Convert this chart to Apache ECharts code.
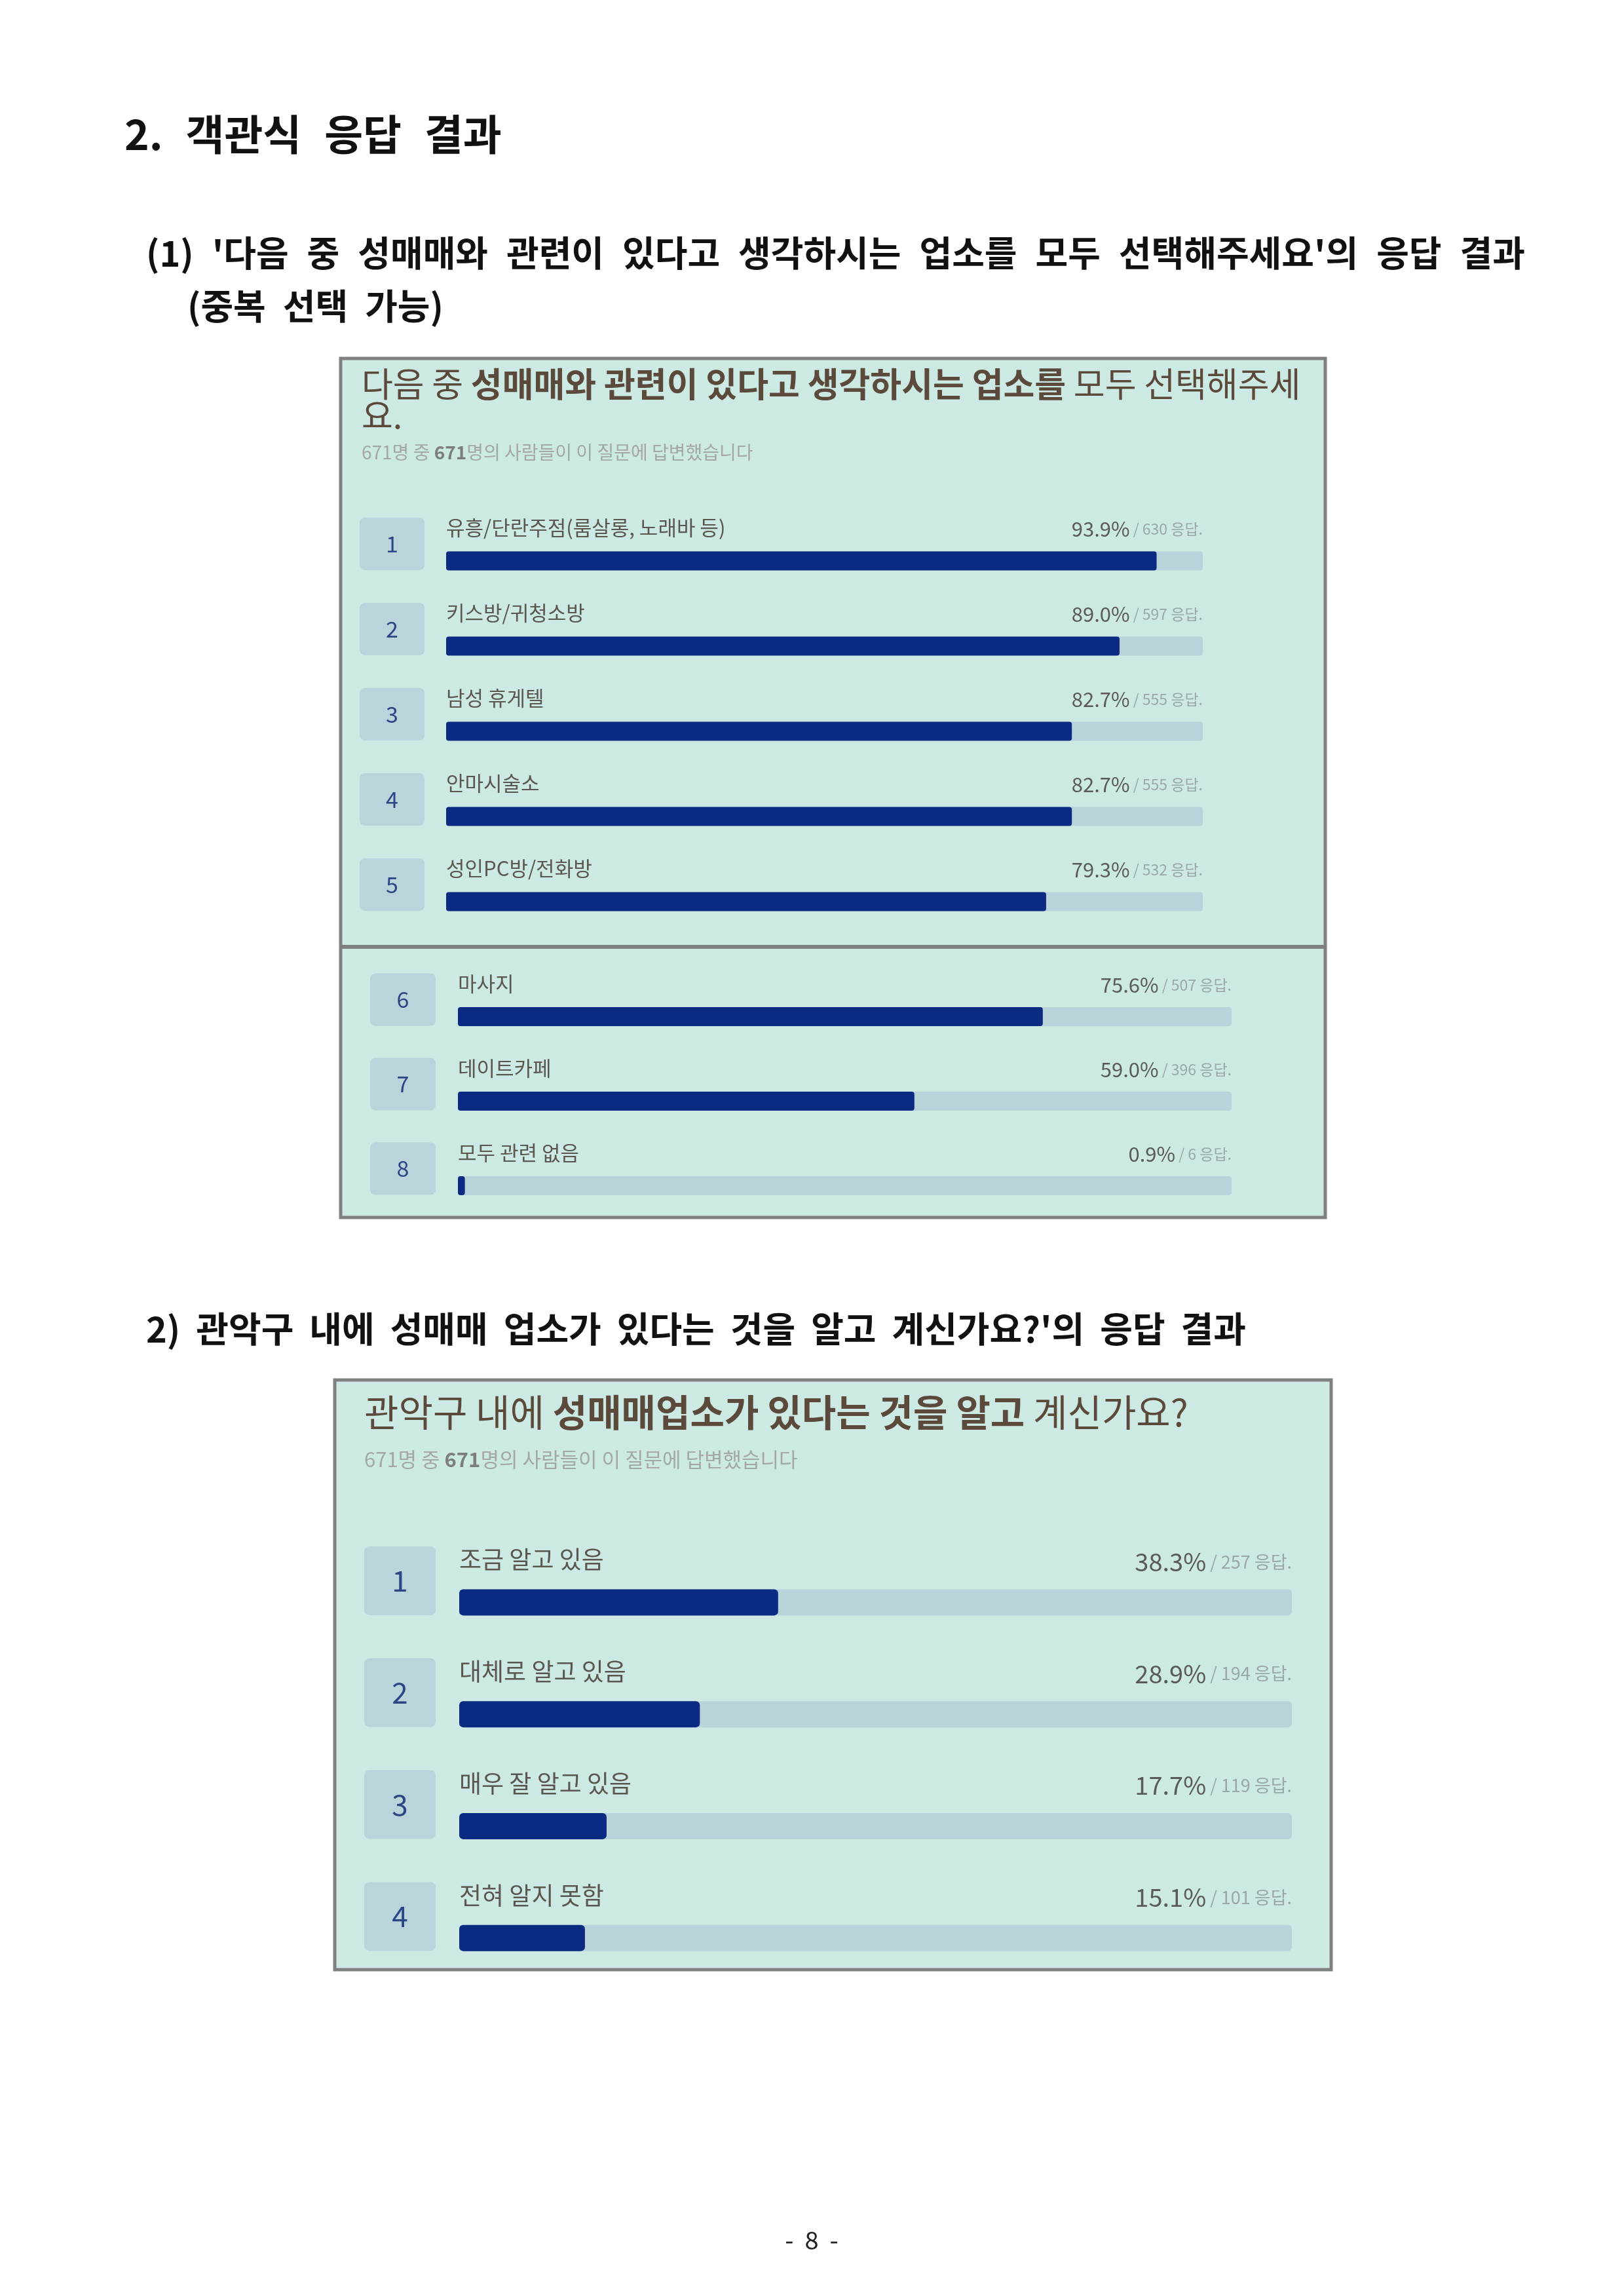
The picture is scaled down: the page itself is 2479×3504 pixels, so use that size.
<!DOCTYPE html>
<html>
<head>
<meta charset="utf-8">
<script src="https://cdn.jsdelivr.net/npm/echarts@6/dist/echarts.min.js"></script>
<style>
html, body { margin: 0; padding: 0; background: #fff; }
#page { width: 2479px; height: 3504px; }
</style>
</head>
<body>
<div id="page"></div>
<script>
// question 1 (multiple choice, shown in two stitched screenshots)
const q1Labels = ['유흥/단란주점(룸살롱, 노래바 등)', '키스방/귀청소방', '남성 휴게텔', '안마시술소', '성인PC방/전화방', '마사지', '데이트카페', '모두 관련 없음'];
const q1Pct = [93.9, 89.0, 82.7, 82.7, 79.3, 75.6, 59.0, 0.9];
const q1Count = [630, 597, 555, 555, 532, 507, 396, 6];
// question 2
const q2Labels = ['조금 알고 있음', '대체로 알고 있음', '매우 잘 알고 있음', '전혀 알지 못함'];
const q2Pct = [38.3, 28.9, 17.7, 15.1];
const q2Count = [257, 194, 119, 101];

const FONT = "'Noto Sans CJK KR', 'Noto Sans', sans-serif";
const NAVY = '#0b2a82';
const TRACK = '#b8d3d9';
const PANEL = '#cde9e3';

const grids = [];
const xAxes = [];
const yAxes = [];
const series = [];

function addBlock(labels, pct, counts, firstNo, s) {
    const idx = grids.length;
    const numbers = labels.map((_, i) => String(firstNo + i));
    const full = labels.map(() => 100);
    grids.push({ left: s.left, top: s.top, width: s.width, height: s.height });
    xAxes.push({ gridIndex: idx, type: 'value', min: 0, max: 100, show: false });
    yAxes.push({
        gridIndex: idx,
        type: 'category',
        inverse: true,
        data: numbers,
        axisLine: { show: false },
        axisTick: { show: false },
        splitLine: { show: false },
        axisLabel: {
            interval: 0,
            hideOverlap: false,
            margin: s.margin,
            formatter: v => '{box|' + v + '}\n{sp| }',
            rich: {
                box: {
                    width: s.boxW,
                    height: s.boxH,
                    lineHeight: s.boxH,
                    align: 'center',
                    backgroundColor: '#b9d4da',
                    borderRadius: 8,
                    color: '#2b4585',
                    fontSize: s.numSize,
                    fontFamily: FONT,
                },
                sp: { height: s.shift * 2, lineHeight: s.shift * 2, fontSize: 8 },
            },
        },
    });
    // track + percentage text at right
    series.push({
        type: 'bar',
        xAxisIndex: idx,
        yAxisIndex: idx,
        data: full,
        barWidth: s.barH,
        barGap: '-100%',
        silent: true,
        itemStyle: { color: TRACK, borderRadius: s.radius },
        label: {
            show: true,
            position: ['100%', -s.pctGap],
            align: 'right',
            verticalAlign: 'middle',
            formatter: p => '{p|' + pct[p.dataIndex].toFixed(1) + '%}{r| / ' + counts[p.dataIndex] + ' 응답.}',
            rich: {
                p: { fontSize: s.pctSize, color: '#5a5a5a', fontFamily: FONT },
                r: { fontSize: s.restSize, color: '#9aa7a8', fontFamily: FONT },
            },
        },
    });
    // filled share
    series.push({
        type: 'bar',
        xAxisIndex: idx,
        yAxisIndex: idx,
        data: pct,
        barWidth: s.barH,
        barGap: '-100%',
        silent: true,
        itemStyle: { color: NAVY, borderRadius: s.radius },
    });
    // option name above the bar
    series.push({
        type: 'bar',
        xAxisIndex: idx,
        yAxisIndex: idx,
        data: full,
        barWidth: s.barH,
        barGap: '-100%',
        silent: true,
        itemStyle: { color: 'rgba(0,0,0,0)' },
        label: {
            show: true,
            position: [0, -s.nameGap],
            align: 'left',
            verticalAlign: 'middle',
            formatter: p => labels[p.dataIndex],
            fontSize: s.nameSize,
            color: '#5a5650',
            fontFamily: FONT,
        },
    });
}

const q1Top = { left: 681, top: 791, width: 1155, height: 650, margin: 33, boxW: 99, boxH: 80, shift: 26,
    numSize: 34, barH: 29, radius: 4, pctGap: 34, nameGap: 36, pctSize: 31, restSize: 23, nameSize: 31 };
const q1Bottom = Object.assign({}, q1Top, { left: 699, top: 1487, width: 1181, height: 387, margin: 34, boxW: 100 });
const q2Style = { left: 701, top: 2360, width: 1271, height: 683, margin: 36, boxW: 109, boxH: 105, shift: 33,
    numSize: 44, barH: 40, radius: 6, pctGap: 42, nameGap: 45, pctSize: 38, restSize: 27, nameSize: 37 };

addBlock(q1Labels.slice(0, 5), q1Pct.slice(0, 5), q1Count.slice(0, 5), 1, q1Top);
addBlock(q1Labels.slice(5), q1Pct.slice(5), q1Count.slice(5), 6, q1Bottom);
addBlock(q2Labels, q2Pct, q2Count, 1, q2Style);

function txt(x, y, text, size, extra) {
    return {
        type: 'text',
        x: x,
        y: y,
        z: 10,
        style: Object.assign({ text: text, fontSize: size, fontFamily: FONT, fill: '#111', verticalAlign: 'middle' }, extra || {}),
    };
}

// bold heading with widened word gaps (justified look of the document)
function heading(x, y, words, size, gap) {
    return txt(x, y, words.map(w => '{w|' + w + '}').join('{s| }'), size, {
        rich: {
            w: { fontSize: size, fontWeight: 'bold', fill: '#111', fontFamily: FONT },
            s: { fontSize: size, width: gap },
        },
    });
}

const graphics = [
    // panels
    { type: 'rect', z: -10, shape: { x: 520, y: 547, width: 1503, height: 1311 }, style: { fill: PANEL, stroke: '#808080', lineWidth: 5 } },
    { type: 'rect', z: -9, shape: { x: 520, y: 1442, width: 1503, height: 6 }, style: { fill: '#808080' } },
    { type: 'rect', z: -10, shape: { x: 511, y: 2106, width: 1521, height: 900 }, style: { fill: PANEL, stroke: '#808080', lineWidth: 5 } },
    // page headings
    heading(190, 205, ['2.', '객관식', '응답', '결과'], 64, 35),
    heading(223, 386, ['(1)', "'다음", '중', '성매매와', '관련이', '있다고', '생각하시는', '업소를', '모두', "선택해주세요'의", '응답', '결과'], 54, 28),
    heading(286, 467, ['(중복', '선택', '가능)'], 54, 26),
    heading(223, 2028, ['2)', '관악구', '내에', '성매매', '업소가', '있다는', '것을', '알고', "계신가요?'의", '응답', '결과'], 54, 24),
    txt(1239, 3419, '-  8  -', 38, { align: 'center', fill: '#222' }),
    // panel 1 header
    txt(552, 610, '{n|다음 중 }{b|성매매와 관련이 있다고 생각하시는 업소를}{n| 모두 선택해주세}\n{n|요.}', 52, {
        rich: {
            n: { fontSize: 52, lineHeight: 48, fill: '#5b4a3c', fontFamily: FONT },
            b: { fontSize: 52, lineHeight: 48, fill: '#5b4a3c', fontFamily: FONT, fontWeight: 'bold' },
        },
    }),
    txt(552, 690, '{n|671명 중 }{b|671}{n|명의 사람들이 이 질문에 답변했습니다}', 28, {
        rich: {
            n: { fontSize: 28, fill: '#a3a8a6', fontFamily: FONT },
            b: { fontSize: 28, fill: '#7a7f7d', fontFamily: FONT, fontWeight: 'bold' },
        },
    }),
    // panel 2 header
    txt(556, 2155, '{n|관악구 내에 }{b|성매매업소가 있다는 것을 알고}{n| 계신가요?}', 57, {
        rich: {
            n: { fontSize: 57, fill: '#5b4a3c', fontFamily: FONT },
            b: { fontSize: 57, fill: '#5b4a3c', fontFamily: FONT, fontWeight: 'bold' },
        },
    }),
    txt(556, 2227, '{n|671명 중 }{b|671}{n|명의 사람들이 이 질문에 답변했습니다}', 31, {
        rich: {
            n: { fontSize: 31, fill: '#a3a8a6', fontFamily: FONT },
            b: { fontSize: 31, fill: '#7a7f7d', fontFamily: FONT, fontWeight: 'bold' },
        },
    }),
];

const chart = echarts.init(document.getElementById('page'));
chart.setOption({
    animation: false,
    backgroundColor: '#ffffff',
    textStyle: { fontFamily: FONT },
    grid: grids,
    xAxis: xAxes,
    yAxis: yAxes,
    series: series,
    graphic: graphics,
});
</script>
</body>
</html>
